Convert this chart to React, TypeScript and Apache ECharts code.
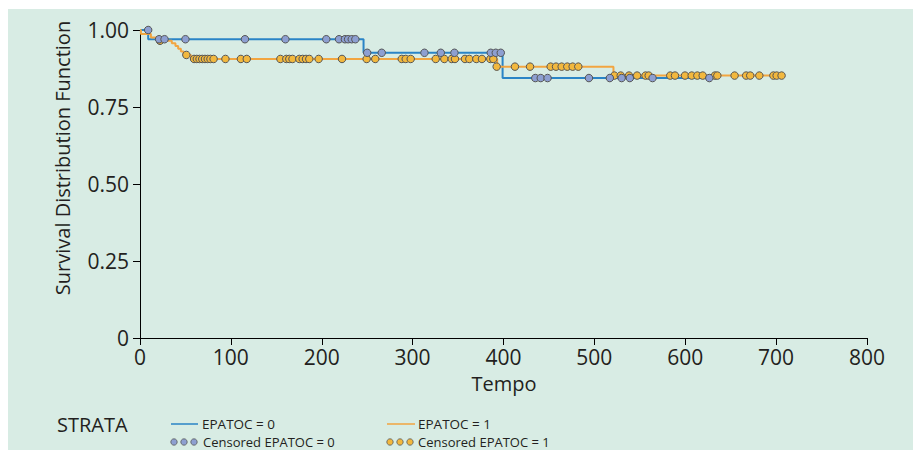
import React, { useEffect, useRef } from "react";
import * as echarts from "echarts";

// Kaplan-Meier step curves (time, survival)
const blueTimes = [0, 9, 246, 399, 627];
const blueSurv = [1, 0.97, 0.926, 0.844, 0.844];
const orangeTimes = [0, 1, 12, 20, 35, 39, 42, 45, 48, 56, 393, 521, 707];
const orangeSurv = [1, 0.987, 0.976, 0.965, 0.957, 0.948, 0.939, 0.93, 0.919, 0.906, 0.881, 0.852, 0.852];

// Censored observations: times grouped by survival level
const blueCensorLevels = [1, 0.97, 0.926, 0.844];
const blueCensorTimes = [
  [9],
  [21, 27, 50, 115.5, 160, 205, 219, 225.5, 229, 233, 237],
  [250, 266, 313, 331, 346, 386, 391.5, 397],
  [435, 441, 448.5, 494, 517, 530, 539, 564, 626.5],
];
const orangeCensorLevels = [0.965, 0.919, 0.906, 0.881, 0.852];
const orangeCensorTimes = [
  [22],
  [51],
  [59.5, 62.5, 65.5, 68.5, 71.5, 74.5, 77.5, 81, 94, 111, 117.5, 154.5, 161, 164.3, 167.8, 175.3, 179, 182.7, 186.3, 196.6, 222.3, 249.4, 258.9, 288, 292.4, 297.9, 325.4, 334.9, 343, 346.6, 357.6, 362.4, 370.1, 376.3, 385.5, 388.8],
  [392.5, 412.6, 429.2, 451.9, 457.8, 464, 470.2, 476.1, 482.3],
  [522, 529, 538.1, 547, 556.3, 559.8, 583.5, 588.7, 599.7, 607.1, 613.3, 619.2, 632.7, 635.3, 654.3, 667, 671.5, 681.5, 697, 700.6, 706],
];

const legendLabels = ["EPATOC = 0", "EPATOC = 1", "Censored EPATOC = 0", "Censored EPATOC = 1"];
const yTitle = "Survival Distribution Function";
const xTitle = "Tempo";
const strataTitle = "STRATA";

const BLUE = "#2a84c6";
const ORANGE = "#f2a540";
const BLUE_FILL = "#8d9fd1";
const ORANGE_FILL = "#f2b83e";
const TEXT = "#231f20";
const FONT = "Open Sans";

function pairs(t: number[], s: number[]) {
  return t.map((x, i) => [x, s[i]]);
}
function censorPoints(levels: number[], times: number[][]) {
  const out: number[][] = [];
  levels.forEach((lv, i) => times[i].forEach((t) => out.push([t, lv])));
  return out;
}

export default function App() {
  const ref = useRef<HTMLDivElement>(null);
  useEffect(() => {
    if (!ref.current) return;
    const chart = echarts.init(ref.current, null, { renderer: "svg" });
    const legendY1 = 415;
    const legendY2 = 433;
    const dot = (x: number, y: number, fill: string) => ({
      type: "circle",
      shape: { cx: x, cy: y, r: 3.2 },
      style: { fill, stroke: "#555", lineWidth: 0.8 },
    });
    const txt = (x: number, y: number, text: string, size: number, extra: any = {}) => ({
      type: "text",
      x,
      y,
      style: {
        text,
        fill: TEXT,
        font: `${size}px "${FONT}"`,
        lineHeight: size + 1,
        textAlign: "left",
        textVerticalAlign: "middle",
        ...extra,
      },
    });
    chart.setOption({
      animation: false,
      backgroundColor: "#d8ece4",
      grid: { left: 132, right: 46, top: 21, bottom: 112, containLabel: false },
      xAxis: {
        type: "value",
        min: 0,
        max: 800,
        interval: 100,
        axisLine: { show: true, lineStyle: { color: "#000", width: 1 } },
        axisTick: { show: true, length: 7, lineStyle: { color: "#000" } },
        splitLine: { show: false },
        axisLabel: { color: TEXT, fontSize: 21, fontFamily: FONT, margin: 8 },
      },
      yAxis: {
        type: "value",
        min: 0,
        max: 1,
        interval: 0.25,
        axisLine: { show: true, lineStyle: { color: "#000", width: 1 } },
        axisTick: { show: true, length: 7, lineStyle: { color: "#000" } },
        splitLine: { show: false },
        axisLabel: {
          color: TEXT,
          fontSize: 21,
          fontFamily: FONT,
          margin: 11,
          formatter: (v: number) => (v === 0 ? "0" : v.toFixed(2)),
        },
      },
      series: [
        {
          type: "line",
          step: "end",
          data: pairs(blueTimes, blueSurv),
          showSymbol: false,
          lineStyle: { color: BLUE, width: 2 },
          z: 2,
        },
        {
          type: "line",
          step: "end",
          data: pairs(orangeTimes, orangeSurv),
          showSymbol: false,
          lineStyle: { color: ORANGE, width: 2 },
          z: 2,
        },
        {
          type: "scatter",
          data: censorPoints(orangeCensorLevels, orangeCensorTimes),
          symbol: "circle",
          symbolSize: 7.5,
          itemStyle: { color: ORANGE_FILL, borderColor: "#555", borderWidth: 1, opacity: 1 },
          z: 3,
        },
        {
          type: "scatter",
          data: censorPoints(blueCensorLevels, blueCensorTimes),
          symbol: "circle",
          symbolSize: 7.5,
          itemStyle: { color: BLUE_FILL, borderColor: "#555", borderWidth: 1, opacity: 1 },
          z: 4,
        },
      ],
      graphic: [
        {
          type: "text",
          x: 54,
          y: 149,
          rotation: Math.PI / 2,
          style: {
            text: yTitle,
            fill: TEXT,
            font: `20px "${FONT}"`,
            textAlign: "center",
            textVerticalAlign: "middle",
          },
        },
        txt(496, 374, xTitle, 20, { textAlign: "center" }),
        txt(49, 415, strataTitle, 20),
        { type: "line", shape: { x1: 163, y1: legendY1, x2: 190, y2: legendY1 }, style: { stroke: BLUE, lineWidth: 1.5 } },
        txt(194, legendY1, legendLabels[0], 13.5),
        { type: "line", shape: { x1: 379, y1: legendY1, x2: 407, y2: legendY1 }, style: { stroke: ORANGE, lineWidth: 1.5 } },
        txt(410, legendY1, legendLabels[1], 13.5),
        dot(166, legendY2, BLUE_FILL),
        dot(176, legendY2, BLUE_FILL),
        dot(186, legendY2, BLUE_FILL),
        txt(195, legendY2, legendLabels[2], 13),
        dot(382, legendY2, ORANGE_FILL),
        dot(392, legendY2, ORANGE_FILL),
        dot(402, legendY2, ORANGE_FILL),
        txt(410, legendY2, legendLabels[3], 13),
      ],
    });
    return () => chart.dispose();
  }, []);
  return (
    <div
      ref={ref}
      style={{ position: "fixed", left: 8, top: 9, width: 905, height: 441 }}
    />
  );
}
